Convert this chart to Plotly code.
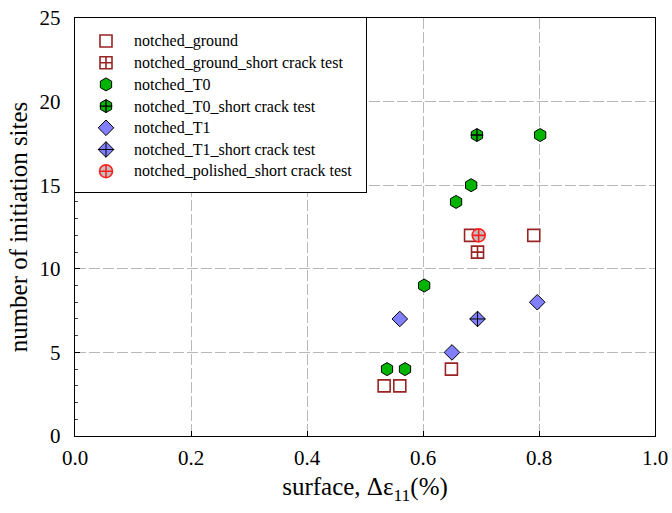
import plotly.graph_objects as go

# Data: strain range (%) vs number of initiation sites
ground_x = [0.533, 0.560, 0.649, 0.682, 0.791]
ground_y = [3, 3, 4, 12, 12]

ground_sct_x = [0.694]
ground_sct_y = [11]

t0_x = [0.538, 0.569, 0.602, 0.657, 0.683, 0.802]
t0_y = [4, 4, 9, 14, 15, 18]

t0_sct_x = [0.693]
t0_sct_y = [18]

t1_x = [0.560, 0.650, 0.797]
t1_y = [7, 5, 8]

t1_sct_x = [0.694]
t1_sct_y = [7]

polished_sct_x = [0.696]
polished_sct_y = [12]

series_names = [
    "notched_ground",
    "notched_ground_short crack test",
    "notched_T0",
    "notched_T0_short crack test",
    "notched_T1",
    "notched_T1_short crack test",
    "notched_polished_short crack test",
]

DARKRED = "#992424"
GREEN = "#00B400"
BLUE = "#8080FF"
RED = "#FF2020"
FONT = "Liberation Serif"

# marker styles per series
styles = [
    dict(symbol="square-open", size=12, color=DARKRED, line=dict(color=DARKRED, width=1.6)),
    dict(symbol="square-cross-open", size=12, color=DARKRED, line=dict(color=DARKRED, width=1.6)),
    dict(symbol="hexagon", size=13, color=GREEN, line=dict(color="black", width=1)),
    dict(symbol="hexagon", size=13, color=GREEN, line=dict(color="black", width=1)),
    dict(symbol="diamond", size=12, color=BLUE, line=dict(color="black", width=1)),
    dict(symbol="diamond-cross", size=12, color=BLUE, line=dict(color="black", width=1)),
    dict(symbol="circle-cross", size=13, color="#C0C0C0", line=dict(color=RED, width=1.6)),
]
overlay_cross = [False, False, False, True, False, False, False]
cross_style = dict(symbol="cross-thin-open", size=9, color="black", line=dict(color="black", width=1.4))

data = [
    (ground_x, ground_y),
    (ground_sct_x, ground_sct_y),
    (t0_x, t0_y),
    (t0_sct_x, t0_sct_y),
    (t1_x, t1_y),
    (t1_sct_x, t1_sct_y),
    (polished_sct_x, polished_sct_y),
]

fig = go.Figure()

for (xs, ys), name, st, cross in zip(data, series_names, styles, overlay_cross):
    fig.add_trace(go.Scatter(x=xs, y=ys, mode="markers", name=name,
                             marker=st, showlegend=False, xaxis="x", yaxis="y"))
    if cross:
        fig.add_trace(go.Scatter(x=xs, y=ys, mode="markers", marker=cross_style,
                                 showlegend=False, hoverinfo="skip", xaxis="x", yaxis="y"))

# Boxed key drawn on its own small subplot (pixel-like units inside the box)
KEY_W, KEY_H = 291, 174
row0, row_step = 23, 21.7
sym_x, txt_x = 31, 57
for i, (name, st, cross) in enumerate(zip(series_names, styles, overlay_cross)):
    yy = row0 + i * row_step
    fig.add_trace(go.Scatter(x=[sym_x], y=[yy], mode="markers", marker=st,
                             showlegend=False, hoverinfo="skip", xaxis="x2", yaxis="y2"))
    if cross:
        fig.add_trace(go.Scatter(x=[sym_x], y=[yy], mode="markers", marker=cross_style,
                                 showlegend=False, hoverinfo="skip", xaxis="x2", yaxis="y2"))
    fig.add_annotation(x=txt_x, y=yy, xref="x2", yref="y2", text=name, showarrow=False,
                       xanchor="left", yanchor="middle",
                       font=dict(family=FONT, size=16, color="black"))

grid = dict(showgrid=True, gridcolor="#b8b8b8", gridwidth=1, griddash="11px,3px")

fig.update_layout(
    width=672, height=513,
    margin=dict(l=75, r=17, t=18, b=77),
    paper_bgcolor="white", plot_bgcolor="white",
    font=dict(family=FONT, color="black"),
    showlegend=False,
    xaxis=dict(
        range=[0, 1.0], dtick=0.2, tickformat=".1f", automargin=False,
        showline=True, linecolor="black", linewidth=1.4, mirror=True,
        ticks="inside", ticklen=5, tickcolor="black",
        zeroline=False, tickfont=dict(size=21), ticklabelstandoff=3,
        title=dict(text="surface, Δε<sub>11</sub>(%)", font=dict(size=25), standoff=8),
        **grid,
    ),
    yaxis=dict(
        range=[0, 25], dtick=5, automargin=False,
        showline=True, linecolor="black", linewidth=1.4, mirror=True,
        ticks="inside", ticklen=5, tickcolor="black",
        minor=dict(dtick=1, ticks="inside", ticklen=3, tickcolor="#444"),
        zeroline=False, tickfont=dict(size=21), ticklabelstandoff=9,
        title=dict(text="number of initiation sites", font=dict(size=25), standoff=4),
        **grid,
    ),
    xaxis2=dict(
        domain=[0, KEY_W / 580], range=[0, KEY_W], anchor="y2",
        showgrid=False, zeroline=False, showticklabels=False, ticks="",
        showline=True, linecolor="black", linewidth=1.2, mirror=True, fixedrange=True,
    ),
    yaxis2=dict(
        domain=[1 - KEY_H / 418, 1], range=[KEY_H, 0], anchor="x2",
        showgrid=False, zeroline=False, showticklabels=False, ticks="",
        showline=True, linecolor="black", linewidth=1.2, mirror=True, fixedrange=True,
    ),
)

fig.write_html("out.html")
